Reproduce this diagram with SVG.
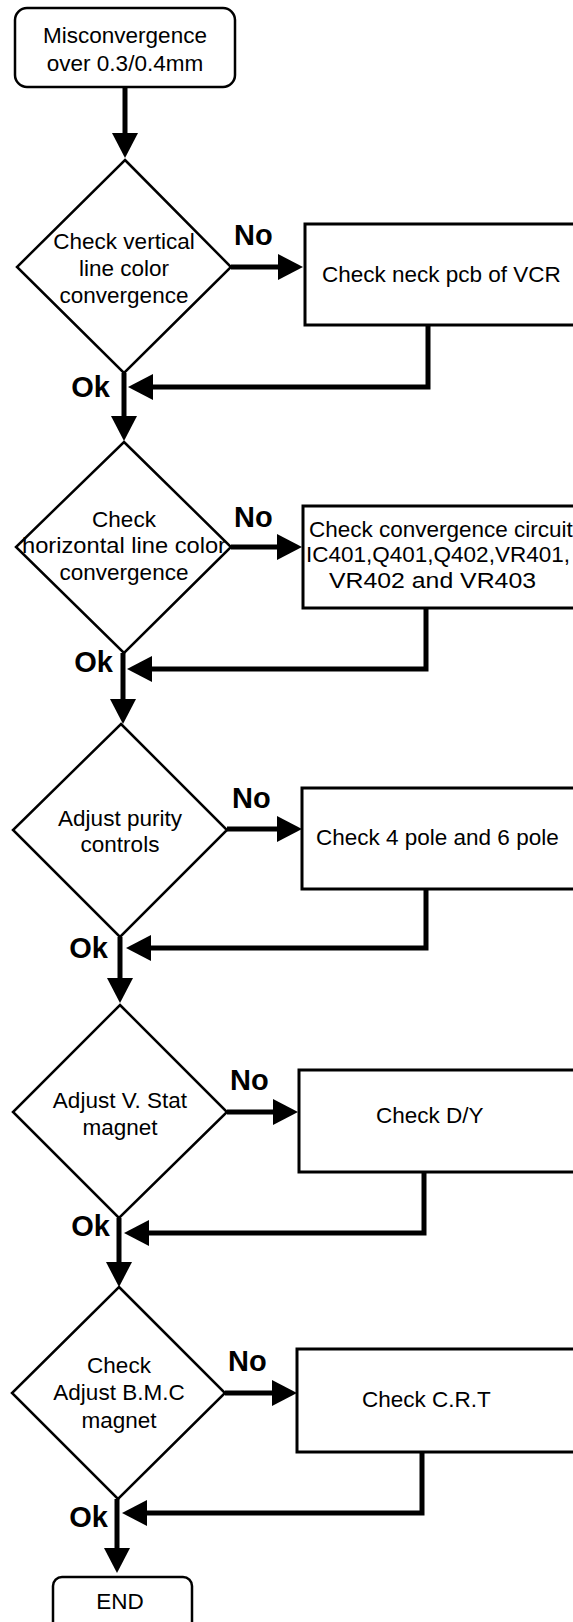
<svg xmlns="http://www.w3.org/2000/svg" width="573" height="1622" viewBox="0 0 573 1622">
<style>
  .bg{fill:#ffffff}
  .term{fill:#fff;stroke:#000;stroke-width:2.5}
  .dec{fill:#fff;stroke:#000;stroke-width:2.5}
  .proc{fill:#fff;stroke:#000;stroke-width:3}
  .t{font-family:"Liberation Sans",Arial,Helvetica,sans-serif;font-size:22.5px;fill:#000}
  .c{text-anchor:middle}
  .lbl{font-family:"Liberation Sans",Arial,Helvetica,sans-serif;font-size:29px;font-weight:bold;fill:#000}
  .e{text-anchor:end}
  .conn path{fill:none;stroke:#000;stroke-width:5;marker-end:url(#ah)}
</style>
<defs>
  <marker id="ah" markerUnits="userSpaceOnUse" viewBox="0 0 25 26" refX="13" refY="13" markerWidth="25" markerHeight="26" orient="auto">
    <path d="M0,0 L25,13 L0,26 Z" fill="#000"/>
  </marker>
</defs>
<rect class="bg" x="0" y="0" width="573" height="1622"/>

<g id="connectors" class="conn">
  <path d="M125,87 V146"/>
  <path d="M231,267 H291"/>
  <path d="M428,325 V387 H140"/>
  <path d="M124,373 V429"/>
  <path d="M231,547 H290"/>
  <path d="M426,608 V669 H139"/>
  <path d="M123,653 V712"/>
  <path d="M227,829 H290"/>
  <path d="M426,889 V948 H138"/>
  <path d="M120,937 V991"/>
  <path d="M227,1112 H286"/>
  <path d="M424,1172 V1233 H136"/>
  <path d="M119,1218 V1275"/>
  <path d="M225,1393 H285"/>
  <path d="M422,1452 V1513 H134"/>
  <path d="M117,1499 V1561"/>
</g>

<g id="labels">
  <text class="lbl" x="234" y="245">No</text>
  <text class="lbl e" x="110" y="397">Ok</text>
  <text class="lbl" x="234" y="527">No</text>
  <text class="lbl e" x="113" y="672">Ok</text>
  <text class="lbl" x="232" y="808">No</text>
  <text class="lbl e" x="108" y="958">Ok</text>
  <text class="lbl" x="230" y="1090">No</text>
  <text class="lbl e" x="110" y="1236">Ok</text>
  <text class="lbl" x="228" y="1371">No</text>
  <text class="lbl e" x="108" y="1527">Ok</text>
</g>

<g id="start">
  <rect class="term" x="15" y="8" width="220" height="79" rx="12"/>
  <text class="t c" x="125" y="43">Misconvergence</text>
  <text class="t c" x="125" y="71">over 0.3/0.4mm</text>
</g>

<g id="d1">
  <polygon class="dec" points="125,160 231,267 124,373 17,267"/>
  <text class="t c" x="124" y="249">Check vertical</text>
  <text class="t c" x="124" y="276">line color</text>
  <text class="t c" x="124" y="303">convergence</text>
</g>
<g id="b1">
  <rect class="proc" x="305" y="224" width="290" height="101"/>
  <text class="t" x="322" y="282">Check neck pcb of VCR</text>
</g>

<g id="d2">
  <polygon class="dec" points="124,442 231,547 124,653 16,547"/>
  <text class="t c" x="124" y="527">Check</text>
  <text class="t c" x="124" y="553" textLength="204" lengthAdjust="spacingAndGlyphs">horizontal line color</text>
  <text class="t c" x="124" y="580">convergence</text>
</g>
<g id="b2">
  <rect class="proc" x="303" y="506" width="290" height="102"/>
  <text class="t" x="309" y="537">Check convergence circuit</text>
  <text class="t" x="306" y="562">IC401,Q401,Q402,VR401,</text>
  <text class="t" x="329" y="588" textLength="207" lengthAdjust="spacingAndGlyphs">VR402 and VR403</text>
</g>

<g id="d3">
  <polygon class="dec" points="121,724 227,830 120,937 13,830"/>
  <text class="t c" x="120" y="826">Adjust purity</text>
  <text class="t c" x="120" y="852">controls</text>
</g>
<g id="b3">
  <rect class="proc" x="302" y="788" width="290" height="101"/>
  <text class="t" x="316" y="845">Check 4 pole and 6 pole</text>
</g>

<g id="d4">
  <polygon class="dec" points="120,1005 227,1112 119,1218 13,1112"/>
  <text class="t c" x="120" y="1108">Adjust V. Stat</text>
  <text class="t c" x="120" y="1135">magnet</text>
</g>
<g id="b4">
  <rect class="proc" x="299" y="1070" width="295" height="102"/>
  <text class="t" x="376" y="1123">Check D/Y</text>
</g>

<g id="d5">
  <polygon class="dec" points="119,1287 225,1393 118,1499 12,1393"/>
  <text class="t c" x="119" y="1373">Check</text>
  <text class="t c" x="119" y="1400">Adjust B.M.C</text>
  <text class="t c" x="119" y="1428">magnet</text>
</g>
<g id="b5">
  <rect class="proc" x="297" y="1349" width="300" height="103"/>
  <text class="t" x="362" y="1407">Check C.R.T</text>
</g>

<g id="end">
  <rect class="term" x="53" y="1577" width="139" height="60" rx="9"/>
  <text class="t c" x="120" y="1609">END</text>
</g>
</svg>
